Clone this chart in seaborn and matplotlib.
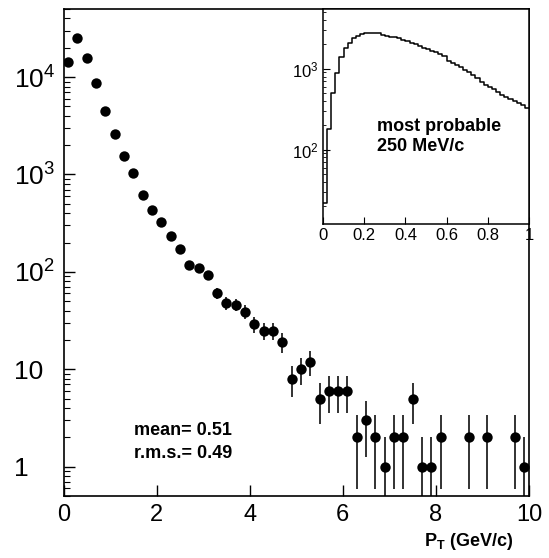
import numpy as np
import pandas as pd
import matplotlib
matplotlib.use("Agg")
import matplotlib.pyplot as plt
import seaborn as sns
from matplotlib.ticker import LogLocator, NullFormatter

sns.set_theme(style="white")
plt.rcParams["font.family"] = ["Liberation Sans", "DejaVu Sans"]
plt.rcParams["mathtext.fontset"] = "custom"
plt.rcParams["mathtext.rm"] = "Liberation Sans"
plt.rcParams["mathtext.bf"] = "Liberation Sans:bold"
plt.rcParams["mathtext.it"] = "Liberation Sans:italic"
plt.rcParams["text.color"] = "black"
plt.rcParams["axes.labelcolor"] = "black"

# main spectrum: bin centres (GeV/c) and counts per 0.2 GeV/c bin
pt = [0.1, 0.3, 0.5, 0.7, 0.9, 1.1, 1.3, 1.5, 1.7, 1.9,
      2.1, 2.3, 2.5, 2.7, 2.9, 3.1, 3.3, 3.5, 3.7, 3.9,
      4.1, 4.3, 4.5, 4.7, 4.9, 5.1, 5.3, 5.5, 5.7, 5.9,
      6.1, 6.3, 6.5, 6.7, 6.9, 7.1, 7.3, 7.5, 7.7, 7.9,
      8.1, 8.7, 9.1, 9.7, 9.9]
counts = [14300, 25000, 15700, 8600, 4450, 2600, 1540, 1030, 620, 435,
          327, 236, 172, 117, 110, 93, 61, 48, 46, 39,
          29, 25, 25, 19, 8, 10, 12, 5, 6, 6,
          6, 2, 3, 2, 1, 2, 2, 5, 1, 1,
          2, 2, 2, 2, 1]

# inset: low pT region, 0.02 GeV/c bins
inset_edges = np.linspace(0, 1, 51)
inset_counts = [22, 178, 500, 880, 1390, 1810, 2110, 2380, 2570, 2670,
                2770, 2770, 2800, 2740, 2620, 2560, 2500, 2450, 2400, 2300,
                2200, 2100, 2000, 1900, 1820, 1760, 1680, 1600, 1510, 1420,
                1260, 1190, 1110, 1040, 960, 900, 830, 760, 680, 630,
                600, 560, 510, 480, 450, 425, 400, 380, 355, 325]
inset_df = pd.DataFrame({
    "pt": (inset_edges[:-1] + inset_edges[1:]) / 2,
    "n": inset_counts,
})

fig = plt.figure(figsize=(5.49, 5.58), dpi=100)
ax = fig.add_axes([0.1157, 0.1111, 0.8479, 0.8728])

ax.errorbar(pt, counts, yerr=np.sqrt(counts), fmt="none",
            ecolor="#222222", elinewidth=1.3, capsize=0, zorder=2)
sns.scatterplot(x=pt, y=counts, ax=ax, color="black", s=56,
                linewidth=0, zorder=3)
ax.set_yscale("log")
ax.set_xlim(0, 10)
ax.set_ylim(0.5, 5e4)

ax.set_xticks([0, 2, 4, 6, 8, 10])
ax.set_yticks([1, 10, 100, 1000, 10000],
              labels=["1", "10", r"$\mathregular{10^2}$",
                      r"$\mathregular{10^3}$", r"$\mathregular{10^4}$"])
ax.yaxis.set_minor_locator(LogLocator(base=10, subs=np.arange(2, 10), numticks=20))
ax.yaxis.set_minor_formatter(NullFormatter())
ax.tick_params(axis="both", which="both", direction="in",
               left=True, bottom=True, top=False, right=False, colors="black")
ax.tick_params(axis="y", which="major", length=8, width=1, labelsize=19, pad=36)
ax.tick_params(axis="y", which="minor", length=4, width=0.8)
ax.tick_params(axis="x", which="major", length=8, width=1, labelsize=17, pad=6)
for lab in ax.get_yticklabels():
    lab.set_horizontalalignment("left")
for s in ax.spines.values():
    s.set_color("black")
    s.set_linewidth(1.2)

ax.set_xlabel(r"$\mathbf{P_T}$ (GeV/c)", fontsize=13, fontweight="bold")
ax.xaxis.set_label_coords(0.9656, -0.072)
ax.xaxis.label.set_horizontalalignment("right")
ax.xaxis.label.set_verticalalignment("top")

ax.text(0.1515, 0.1355, "mean= 0.51", transform=ax.transAxes,
        fontsize=13, fontweight="bold", va="center", color="black")
ax.text(0.1515, 0.0883, "r.m.s.= 0.49", transform=ax.transAxes,
        fontsize=13, fontweight="bold", va="center", color="black")

# inset
axin = fig.add_axes([0.5883, 0.5986, 0.3753, 0.3853])
axin.set_facecolor("white")
sns.histplot(data=inset_df, x="pt", weights="n", binwidth=0.02, binrange=(0, 1),
             element="step", fill=False, color="black", linewidth=1.1, ax=axin)
axin.set_yscale("log")
axin.set_xlim(0, 1)
axin.set_ylim(12, 5500)
axin.set_xlabel("")
axin.set_ylabel("")
axin.set_xticks([0, 0.2, 0.4, 0.6, 0.8, 1],
                labels=["0", "0.2", "0.4", "0.6", "0.8", "1"])
axin.set_yticks([100, 1000],
                labels=[r"$\mathregular{10^2}$", r"$\mathregular{10^3}$"])
axin.yaxis.set_minor_locator(LogLocator(base=10, subs=np.arange(2, 10), numticks=20))
axin.yaxis.set_minor_formatter(NullFormatter())
axin.tick_params(axis="both", which="both", direction="in",
                 left=True, bottom=True, top=False, right=False,
                 colors="black", labelsize=12, pad=3)
axin.tick_params(axis="both", which="major", length=5, width=0.8)
axin.tick_params(axis="y", which="minor", length=2.5, width=0.6)
for s in axin.spines.values():
    s.set_color("black")
    s.set_linewidth(1.1)

axin.text(0.262, 0.407, "most probable\n250 MeV/c", transform=axin.transAxes,
          fontsize=13, fontweight="bold", va="center", linespacing=1.25,
          color="black")

fig.savefig("out.png", dpi=100)
plt.close(fig)
